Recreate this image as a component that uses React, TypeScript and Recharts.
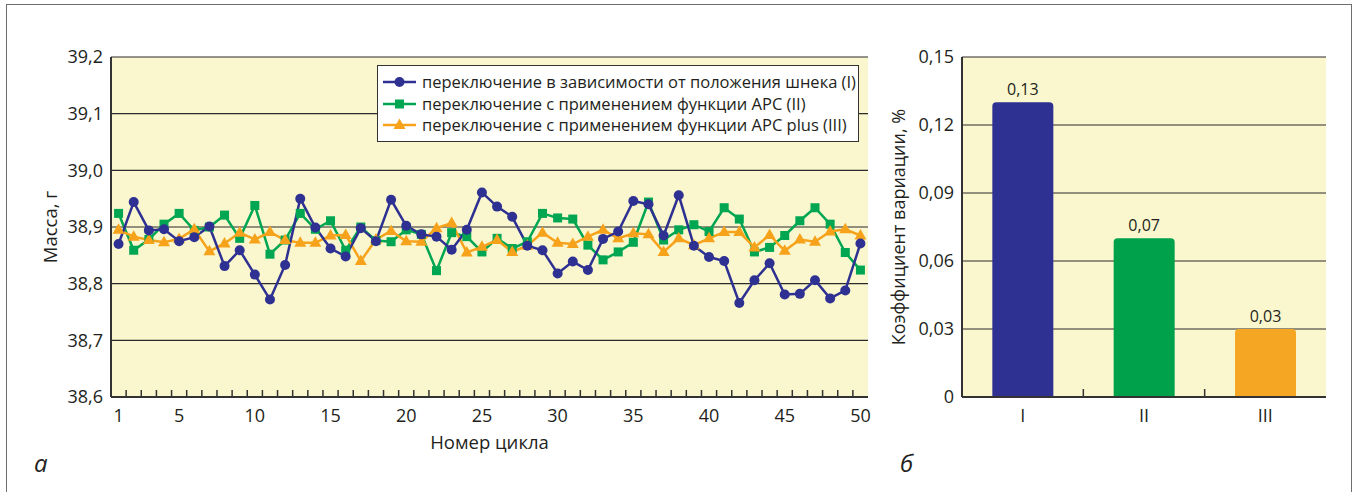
import React from 'react';
import {
  LineChart, Line, BarChart, Bar, XAxis, YAxis, CartesianGrid, Legend, LabelList, Cell,
} from 'recharts';

// --- данные ---
const CYCLES = [
  1, 2, 3, 4, 5, 6, 7, 8, 9, 10, 11, 12, 13, 14, 15, 16, 17, 18, 19, 20, 21, 22, 23, 24, 25,
  26, 27, 28, 29, 30, 31, 32, 33, 34, 35, 36, 37, 38, 39, 40, 41, 42, 43, 44, 45, 46, 47, 48, 49, 50,
];
const MASS_I = [
  38.870, 38.944, 38.894, 38.896, 38.875, 38.882, 38.901, 38.831, 38.859, 38.816,
  38.772, 38.833, 38.950, 38.899, 38.862, 38.848, 38.898, 38.875, 38.948, 38.902,
  38.887, 38.883, 38.860, 38.895, 38.961, 38.936, 38.918, 38.867, 38.859, 38.818,
  38.839, 38.824, 38.879, 38.892, 38.946, 38.940, 38.885, 38.956, 38.867, 38.847,
  38.840, 38.766, 38.806, 38.836, 38.781, 38.782, 38.806, 38.774, 38.788, 38.871,
];
const MASS_II = [
  38.924, 38.859, 38.878, 38.905, 38.924, 38.894, 38.900, 38.921, 38.880, 38.938,
  38.852, 38.877, 38.924, 38.896, 38.911, 38.859, 38.900, 38.876, 38.874, 38.895,
  38.887, 38.823, 38.890, 38.883, 38.856, 38.880, 38.862, 38.874, 38.924, 38.916,
  38.914, 38.868, 38.842, 38.856, 38.873, 38.944, 38.877, 38.895, 38.904, 38.892,
  38.934, 38.914, 38.856, 38.864, 38.885, 38.911, 38.934, 38.905, 38.855, 38.824,
];
const MASS_III = [
  38.895, 38.883, 38.877, 38.873, 38.879, 38.896, 38.857, 38.871, 38.890, 38.878,
  38.891, 38.877, 38.872, 38.872, 38.885, 38.886, 38.840, 38.878, 38.893, 38.875,
  38.874, 38.898, 38.907, 38.855, 38.865, 38.877, 38.856, 38.867, 38.890, 38.872,
  38.870, 38.883, 38.895, 38.880, 38.889, 38.887, 38.856, 38.880, 38.868, 38.880,
  38.891, 38.891, 38.864, 38.886, 38.858, 38.878, 38.874, 38.892, 38.896, 38.885,
];
const X_TICKS = [1, 5, 10, 15, 20, 25, 30, 35, 40, 45, 50];
const Y_TICKS = [38.6, 38.7, 38.8, 38.9, 39.0, 39.1, 39.2];
const SERIES_NAMES = [
  'переключение в зависимости от положения шнека (I)',
  'переключение с применением функции APC (II)',
  'переключение с применением функции APC plus (III)',
];

const CV_CATEGORIES = ['I', 'II', 'III'];
const CV_VALUES = [0.13, 0.07, 0.03];
const CV_TICKS = [0, 0.03, 0.06, 0.09, 0.12, 0.15];

// --- оформление ---
const FONT = '"Open Sans", sans-serif';
const INK = '#231f20';
const AXIS = '#333333';
const PLOT_BG = '#faf7ce';
const BLUE = '#2e3192';
const GREEN = '#00a651';
const ORANGE = '#f7a21b';
const BAR_COLORS = [BLUE, '#00a14b', '#f5a623'];

// размеры: высота обоих графиков, ширина оси Y, высота оси X
const H = 492;
const Y_W = 70;
const X_H = 52;
const TICK_SIZE = 6;
const TICK_MARGIN = 6;
const MASS_W = 880;
const MASS_M = { top: 57, right: 12, left: 41, bottom: 43 };
const CV_W = 475;
const CV_M = { top: 57, right: 29, left: 12, bottom: 43 };
const plotW = (w: number, m: typeof MASS_M) => w - m.left - Y_W - m.right;

type Shape = 'circle' | 'square' | 'triangle';

const SERIES: { key: string; name: string; color: string; shape: Shape }[] = [
  { key: 'I', name: SERIES_NAMES[0], color: BLUE, shape: 'circle' },
  { key: 'II', name: SERIES_NAMES[1], color: GREEN, shape: 'square' },
  { key: 'III', name: SERIES_NAMES[2], color: ORANGE, shape: 'triangle' },
];

const massData = CYCLES.map((c, i) => ({ cycle: c, I: MASS_I[i], II: MASS_II[i], III: MASS_III[i] }));
const cvData = CV_CATEGORIES.map((name, i) => ({ name, idx: i + 1, value: CV_VALUES[i] }));

const comma = (v: number, d: number) => (v === 0 ? '0' : v.toFixed(d).replace('.', ','));

function marker(shape: Shape, cx: number, cy: number, color: string, key?: string) {
  if (shape === 'circle') return <circle key={key} cx={cx} cy={cy} r={5} fill={color} />;
  if (shape === 'square') return <rect key={key} x={cx - 4.5} y={cy - 4.5} width={9} height={9} fill={color} />;
  return <polygon key={key} points={`${cx},${cy - 6.5} ${cx + 6},${cy + 4} ${cx - 6},${cy + 4}`} fill={color} />;
}

const makeDot = (shape: Shape, color: string) => (p: any) => {
  if (p.cx == null || p.cy == null) return <g key={`e-${shape}-${p.index}`} />;
  return marker(shape, p.cx, p.cy, color, `${shape}-${p.index}`);
};

// тик на каждой категории: подпись (если есть) + засечка внутрь на границе со следующей
const makeXTick = (
  step: number, last: number, len: number, label: (v: number) => string | null,
) => (p: any) => {
  const v = Number(p.payload.value);
  const y0 = p.y - TICK_SIZE - TICK_MARGIN;
  const text = label(v);
  return (
    <g>
      {v < last && (
        <line x1={p.x + step / 2} y1={y0} x2={p.x + step / 2} y2={y0 - len} stroke={AXIS} strokeWidth={1.5} />
      )}
      {text != null && (
        <text x={p.x} y={p.y} dy="0.71em" textAnchor="middle" fontSize={18} fill={INK} fontFamily={FONT}>
          {text}
        </text>
      )}
    </g>
  );
};

// жёлтая подложка под областью построения (svg поверх неё прозрачный)
function PlotBg({ width, margin }: { width: number; margin: typeof MASS_M }) {
  return (
    <div style={{
      position: 'absolute', background: PLOT_BG,
      left: margin.left + Y_W, top: margin.top,
      width: plotW(width, margin),
      height: H - margin.top - margin.bottom - X_H,
    }} />
  );
}

function LegendBox() {
  return (
    <div style={{
      background: '#fff', border: '1px solid #333', padding: '5px 6px 5px 5px', boxSizing: 'border-box',
      fontFamily: FONT, fontSize: 16.5, color: INK, lineHeight: '21.7px', width: 482,
    }}>
      {SERIES.map(s => (
        <div key={s.key} style={{ display: 'flex', alignItems: 'center', whiteSpace: 'nowrap' }}>
          <svg width={33} height={14} style={{ marginRight: 6, flex: 'none' }}>
            <line x1={0} y1={7} x2={33} y2={7} stroke={s.color} strokeWidth={2.5} />
            {marker(s.shape, 16.5, 7, s.color)}
          </svg>
          <span>{s.name}</span>
        </div>
      ))}
    </div>
  );
}

const tickStyle = { fontSize: 18, fill: INK, fontFamily: FONT };
const titleStyle = { fontSize: 18.5, fill: INK, fontFamily: FONT };

function MassChart() {
  const step = plotW(MASS_W, MASS_M) / CYCLES.length;
  return (
    <LineChart width={MASS_W} height={H} data={massData} margin={MASS_M}>
      <CartesianGrid vertical={false} stroke="#2b2b2b" strokeWidth={1.2} />
      <XAxis
        type="number" dataKey="cycle" domain={[0.5, 50.5]} ticks={CYCLES} interval={0}
        tickLine={false} tickSize={TICK_SIZE} tickMargin={TICK_MARGIN}
        tick={makeXTick(step, CYCLES[CYCLES.length - 1], 7, v => (X_TICKS.includes(v) ? String(v) : null))}
        axisLine={{ stroke: AXIS, strokeWidth: 2 }} height={X_H}
        label={{ value: 'Номер цикла', position: 'insideBottom', offset: 0, style: titleStyle }}
      />
      <YAxis
        domain={[38.6, 39.2]} ticks={Y_TICKS} interval={0} width={Y_W}
        tickLine={false} tick={tickStyle} tickFormatter={(v: number) => comma(v, 1)}
        axisLine={{ stroke: AXIS, strokeWidth: 2 }}
        label={{ value: 'Масса, г', angle: -90, position: 'insideLeft', offset: 9, style: { ...titleStyle, textAnchor: 'middle' } }}
      />
      <YAxis yAxisId="frame" orientation="right" width={0} domain={[0, 1]} tick={false} tickLine={false}
        axisLine={{ stroke: AXIS, strokeWidth: 2 }} />
      <Legend
        layout="vertical" align="center" verticalAlign="middle"
        content={() => <LegendBox />}
        wrapperStyle={{ left: 377, top: 65, width: 482 }}
      />
      <Line type="linear" dataKey="II" stroke={GREEN} strokeWidth={2.5} dot={makeDot('square', GREEN)} activeDot={false} isAnimationActive={false} />
      <Line type="linear" dataKey="III" stroke={ORANGE} strokeWidth={2.5} dot={makeDot('triangle', ORANGE)} activeDot={false} isAnimationActive={false} />
      <Line type="linear" dataKey="I" stroke={BLUE} strokeWidth={2.5} dot={makeDot('circle', BLUE)} activeDot={false} isAnimationActive={false} />
    </LineChart>
  );
}

function CvChart() {
  const step = plotW(CV_W, CV_M) / cvData.length;
  return (
    <BarChart width={CV_W} height={H} data={cvData} margin={CV_M} barCategoryGap="25%">
      <CartesianGrid vertical={false} stroke="#2b2b2b" strokeWidth={1.2} />
      <XAxis
        type="number" dataKey="idx" domain={[0.5, 3.5]} ticks={cvData.map(d => d.idx)} interval={0}
        tickLine={false} tickSize={TICK_SIZE} tickMargin={TICK_MARGIN}
        tick={makeXTick(step, cvData.length, 8, v => CV_CATEGORIES[v - 1] ?? null)}
        axisLine={{ stroke: AXIS, strokeWidth: 2 }} height={X_H}
      />
      <YAxis
        domain={[0, 0.15]} ticks={CV_TICKS} interval={0} width={Y_W}
        tickLine={false} tick={tickStyle} tickFormatter={(v: number) => comma(v, 2)}
        axisLine={{ stroke: AXIS, strokeWidth: 2 }}
        label={{ value: 'Коэффициент вариации, %', angle: -90, position: 'insideLeft', offset: 7, style: { ...titleStyle, fontSize: 18, textAnchor: 'middle' } }}
      />
      <YAxis yAxisId="frame" orientation="right" width={0} domain={[0, 1]} tick={false} tickLine={false}
        axisLine={{ stroke: AXIS, strokeWidth: 2 }} />
      <Bar dataKey="value" radius={[4, 4, 0, 0]} isAnimationActive={false}>
        {cvData.map((d, i) => <Cell key={d.name} fill={BAR_COLORS[i]} />)}
        <LabelList dataKey="value" position="top" offset={7}
          formatter={(v: any) => comma(Number(v), 2)}
          style={{ fontSize: 16, fill: INK, fontFamily: FONT }} />
      </Bar>
    </BarChart>
  );
}

export default function App() {
  const letter: React.CSSProperties = {
    position: 'absolute', top: 446, fontFamily: FONT, fontStyle: 'italic', fontSize: 24, color: INK,
  };
  return (
    <div style={{ position: 'relative', width: 1355, height: H, background: '#fff', overflow: 'hidden' }}>
      <style>{'body{margin:0}'}</style>
      <div style={{
        position: 'absolute', left: 6, top: 4, width: 1346, height: 520, boxSizing: 'border-box',
        border: '1.5px solid #6e6e6e',
      }} />
      <div style={{ position: 'absolute', left: 0, top: 0, width: MASS_W, height: H }}>
        <PlotBg width={MASS_W} margin={MASS_M} />
        <MassChart />
      </div>
      <div style={{ position: 'absolute', left: 880, top: 0, width: CV_W, height: H }}>
        <PlotBg width={CV_W} margin={CV_M} />
        <CvChart />
      </div>
      <div style={{ ...letter, left: 34 }}>а</div>
      <div style={{ ...letter, left: 900 }}>б</div>
    </div>
  );
}
